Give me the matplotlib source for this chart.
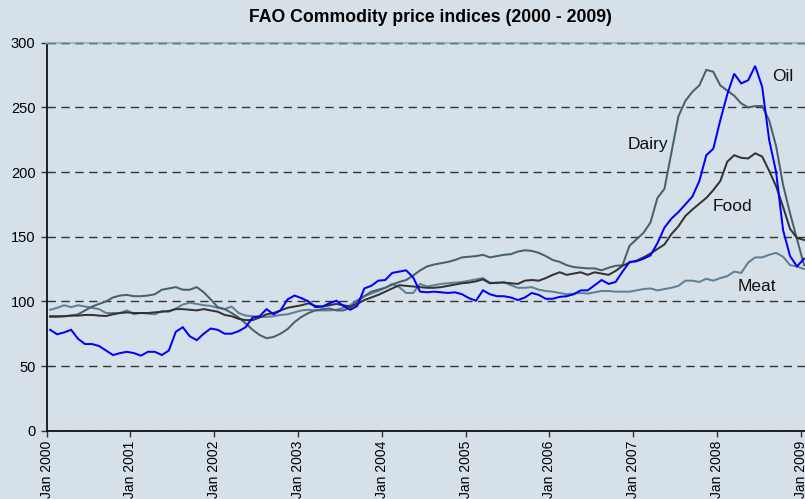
import numpy as np
import matplotlib
matplotlib.use("Agg")
import matplotlib.pyplot as plt

plt.rcParams['font.family'] = ['Liberation Sans', 'DejaVu Sans']

title = "FAO Commodity price indices (2000 - 2009)"
tick_years = [2000, 2001, 2002, 2003, 2004, 2005, 2006, 2007, 2008, 2009]
tick_labels = ["Jan %d" % y for y in tick_years]
y_ticks = [0, 50, 100, 150, 200, 250, 300]

# Monthly index values, Jan 2000 .. Jan 2009
oil = [78, 74.5, 76, 78, 71, 67, 67, 65.5, 62, 58.5, 60, 61,
       60, 58, 61, 61, 58.5, 62, 76.5, 80, 73, 70, 75, 79,
       78, 75, 75, 77, 80, 87.5, 88.5, 94, 90, 93, 101.5, 104.5,
       102.5, 100, 95.5, 96, 98.5, 100.5, 96.5, 93.5, 96.5, 110, 112, 116,
       116.5, 122, 123, 124, 118.5, 107.5, 107, 107.5, 107, 106.5, 107, 105.5,
       102.5, 100.5, 108.5, 105.5, 104, 104, 103, 101, 103, 106.5, 105, 102,
       102, 103.5, 104, 105.5, 108.5, 108.5, 112.5, 116.5, 113.5, 115, 123, 130.5,
       131, 133, 135.5, 145, 157, 164, 169, 175, 181, 193, 213, 218,
       240, 260, 276, 268.5, 271, 282, 266, 225, 200, 155, 135, 127,
       133]
food = [88.5, 88.5, 88.5, 89, 89, 89.5, 89.5, 89, 88.7, 90, 91, 91.5,
        91, 91, 91, 91.5, 92, 92.5, 94, 94, 93.5, 93, 94, 93,
        92, 89.5, 88.5, 86.5, 85.5, 85.5, 87.5, 90, 91, 93, 95, 96,
        97, 98.5, 96.5, 96, 97, 98, 97, 96, 98, 101, 103, 105,
        107.5, 110, 112.5, 112, 111.5, 111, 110.5, 110.5, 111, 112, 113, 114,
        114.5, 115.5, 117, 114, 114.5, 114.5, 114, 113.5, 116, 116.5, 116, 118,
        120.5, 122.5, 120.5, 121.5, 122.5, 120.5, 122.5, 121.5, 120.5, 123.5, 127.5, 130,
        131.5, 134, 137, 140.5, 144, 152, 158, 166, 171, 175.5, 180, 186,
        193, 208, 213, 211, 210.5, 214.5, 212, 201, 189, 173, 156, 149,
        147.5]
dairy = [88, 88, 88.5, 89, 90, 93, 96, 98, 100, 103, 104.5, 105,
         104, 104, 104.5, 105.5, 109, 110, 111, 109, 109, 111, 107, 101.5,
         95.5, 94, 91, 87.5, 83, 78, 74, 71.5, 72.5, 75, 78.5, 84,
         88, 91, 93, 94, 94.5, 93, 93, 95, 100, 104, 107.5, 109,
         110.5, 113, 115, 116.5, 120, 124, 127, 128.5, 129.5, 130.5, 132, 134,
         134.5, 135, 136, 134, 135, 136, 136.5, 138.5, 139.5, 139, 137.5, 135,
         132, 130.5, 128, 126.5, 126, 125.5, 125.5, 124, 126, 127.5, 128, 143,
         148, 153, 161, 180, 187, 215, 243, 255, 262, 267, 279, 277.5,
         267, 263, 259, 253, 250, 251, 251, 240, 220, 190, 168, 148,
         128]
meat = [93.5, 95, 97, 95.5, 97, 96, 95, 94, 91, 91, 91, 93,
        90, 91, 90.5, 90, 92.5, 92, 94.5, 97.5, 99, 98, 97, 96.5,
        95, 94, 96, 91, 89, 88.5, 88, 88, 88.5, 89.5, 90, 91.5,
        93, 93.5, 93, 93, 93, 93.5, 95, 97, 101, 104, 106, 108,
        110.5, 113.5, 111, 106.5, 106.5, 113.5, 111.5, 112.5, 113.5, 114, 114.5, 115,
        116, 117, 118, 114.5, 114, 115, 112.5, 110.5, 110.5, 111, 109, 108,
        107.5, 106.5, 105.5, 106, 106.5, 106, 107, 108, 108, 107.5, 107.5, 107.5,
        108.5, 109.5, 110, 108.5, 109.5, 110.5, 112, 116, 116, 115, 117.5, 116,
        118, 119.5, 123, 122, 130, 134, 134, 136, 137.5, 134.5, 128, 127,
        125]

series = [
    ("Meat", meat, "#5E7F94", 2.0),
    ("Dairy", dairy, "#46606F", 2.0),
    ("Food", food, "#333333", 2.0),
    ("Oil", oil, "#0000FF", 2.0),
]
labels = {
    "Oil": (105.4, 270.7),
    "Dairy": (86.1, 217.6),
    "Food": (98.3, 170.1),
    "Meat": (101.7, 108.3),
}

bg = "#D6E0E9"
fig = plt.figure(figsize=(8.05, 4.99), dpi=100, facecolor=bg)
ax = fig.add_axes([46.7 / 805, (499 - 430.7) / 499, 1 - 46.7 / 805, (430.7 - 42.7) / 499])
ax.set_facecolor(bg)

months = np.arange(len(food)) + 0.5
for name, vals, color, lw in series:
    ax.plot(months, vals, color=color, lw=lw * 0.72, solid_joinstyle='miter', zorder=3)

for name, (x, y) in labels.items():
    ax.text(x, y, name, fontsize=12.5, ha='center', va='baseline', color='#111111', zorder=4)

ax.set_xlim(0, (805 - 46.7) / 6.98)
ax.set_ylim(0, 300)
ax.set_xticks([12 * i for i in range(len(tick_years))])
ax.set_xticklabels(tick_labels, rotation=90, fontsize=10)
ax.set_yticks(y_ticks)
ax.set_yticklabels([str(v) for v in y_ticks], fontsize=10.5)
ax.tick_params(axis='both', direction='out', length=4, width=1, color='#333333', pad=3)
ax.tick_params(axis='y', pad=4)

ax.yaxis.grid(True, color='#333333', linestyle=(0, (6, 4)), linewidth=1.0, zorder=1)
ax.set_axisbelow(True)

ax.spines['right'].set_visible(False)
ax.spines['top'].set_color('#9DBBD0')
ax.spines['top'].set_linewidth(1.6)
ax.spines['left'].set_color('black')
ax.spines['bottom'].set_color('black')
ax.spines['left'].set_linewidth(1.2)
ax.spines['bottom'].set_linewidth(1.2)
ax.axhline(300, color='#5A7A8E', linestyle=(0, (6, 4)), linewidth=1.0, zorder=2.6, clip_on=False)

fig.text(430 / 805, 1 - 17 / 499, title, fontsize=12.7, fontweight='bold', ha='center', va='center')

fig.savefig("out.png", dpi=100, facecolor=bg)
